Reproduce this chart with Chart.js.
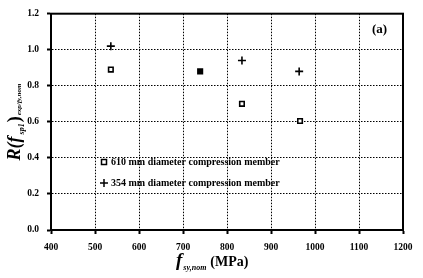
<!DOCTYPE html>
<html>
<head>
<meta charset="utf-8">
<script src="https://cdn.jsdelivr.net/npm/chart.js@4.4.0/dist/chart.umd.min.js"></script>
<style>
  html, body { margin: 0; padding: 0; background: #fff; }
  #wrap { width: 423px; height: 278px; }
</style>
</head>
<body>
<div id="wrap"><canvas id="grafico"></canvas></div>
<script>
// Datos
const fyNom610 = [536, 739, 834, 966];
const ratio610 = [0.89, 0.88, 0.70, 0.605];
const fyNom354 = [536, 834, 964];
const ratio354 = [1.02, 0.94, 0.88];
const label610 = '610 mm diameter compression member';
const label354 = '354 mm diameter compression member';
const xTicks = [400, 500, 600, 700, 800, 900, 1000, 1100, 1200];
const yTicks = [0.0, 0.2, 0.4, 0.6, 0.8, 1.0, 1.2];

const SERIF = '"Liberation Serif", "DejaVu Serif", serif';

// Marco, títulos de ejes, leyenda y "(a)"
const decoraciones = {
    id: 'decoraciones',
    afterDraw(chart) {
        const ctx = chart.ctx;
        const a = chart.chartArea;
        ctx.save();
        ctx.strokeStyle = '#000';
        ctx.lineWidth = 2;
        ctx.strokeRect(a.left, a.top, a.right - a.left, a.bottom - a.top);

        ctx.fillStyle = '#000';
        // (a)
        ctx.font = 'bold 13px ' + SERIF;
        ctx.textBaseline = 'middle';
        ctx.fillText('(a)', 372, 30);

        // leyenda
        ctx.font = 'bold 10px ' + SERIF;
        ctx.textBaseline = 'middle';
        ctx.lineWidth = 1.5;
        ctx.strokeRect(101.5, 159.5, 5, 5);
        ctx.fillText(label610, 111, 162);
        ctx.beginPath();
        ctx.moveTo(104, 179); ctx.lineTo(104, 187);
        ctx.moveTo(100, 183); ctx.lineTo(108, 183);
        ctx.stroke();
        ctx.fillText(label354, 111, 183);

        // título eje x
        ctx.textBaseline = 'alphabetic';
        let x = 176;
        ctx.font = 'italic bold 19px ' + SERIF;
        ctx.fillText('f', x, 266);
        x += ctx.measureText('f').width + 1;
        ctx.font = 'italic bold 8px ' + SERIF;
        ctx.fillText('sy,nom', x, 270);
        x += ctx.measureText('sy,nom').width + 4;
        ctx.font = 'bold 14px ' + SERIF;
        ctx.fillText('(MPa)', x, 266);

        // título eje y (rotado)
        ctx.translate(20, 122);
        ctx.rotate(-Math.PI / 2);
        const partes = [
            ['italic bold 18px ', 'R(f', 0, 2],
            ['italic bold 8px ', 'sp1', 4, 1],
            ['bold 18px ', ')', 0, 1],
            ['italic bold 7px ', 'exp/fy,nom', 1, 0]
        ];
        let total = 0;
        partes.forEach(p => { ctx.font = p[0] + SERIF; total += ctx.measureText(p[1]).width + p[3]; });
        let px = -total / 2;
        partes.forEach(p => {
            ctx.font = p[0] + SERIF;
            ctx.fillText(p[1], px, p[2]);
            px += ctx.measureText(p[1]).width + p[3];
        });
        ctx.restore();
    }
};

const rellenos610 = ['#fff', '#000', '#fff', '#fff'];

new Chart(document.getElementById('grafico'), {
    type: 'scatter',
    data: {
        datasets: [{
            label: label610,
            data: fyNom610.map((v, i) => ({ x: v, y: ratio610[i] })),
            pointStyle: 'rect',
            pointRadius: 3.2,
            borderColor: '#000',
            backgroundColor: rellenos610,
            borderWidth: 1.6
        }, {
            label: label354,
            data: fyNom354.map((v, i) => ({ x: v, y: ratio354[i] })),
            pointStyle: 'cross',
            pointRadius: 4,
            borderColor: '#000',
            borderWidth: 1.6
        }]
    },
    options: {
        responsive: true,
        maintainAspectRatio: false,
        animation: false,
        layout: { padding: { left: 0, right: 20, top: 8, bottom: 0 } },
        plugins: { legend: { display: false }, tooltip: { enabled: false } },
        scales: {
            x: {
                type: 'linear',
                min: 400, max: 1200,
                afterBuildTicks: s => { s.ticks = xTicks.map(v => ({ value: v })); },
                afterFit: s => { s.height = 48; },
                border: { display: true, color: '#000', width: 2, dash: [1.5, 1.5] },
                grid: { color: '#000', lineWidth: 1, tickLength: 4, tickColor: '#000', tickWidth: 2 },
                ticks: { color: '#000', padding: 8, callback: v => String(v), font: { family: SERIF, size: 9.5, weight: 'bold' } }
            },
            y: {
                type: 'linear',
                min: 0, max: 1.2,
                afterBuildTicks: s => { s.ticks = yTicks.map(v => ({ value: v })); },
                afterFit: s => { s.width = 51; },
                border: { display: true, color: '#000', width: 2, dash: [1.5, 1.5] },
                grid: { color: '#000', lineWidth: 1, tickLength: 4, tickColor: '#000', tickWidth: 2 },
                ticks: { color: '#000', padding: 8, callback: v => v.toFixed(1), font: { family: SERIF, size: 9.5, weight: 'bold' } }
            }
        }
    },
    plugins: [decoraciones]
});
</script>
</body>
</html>
